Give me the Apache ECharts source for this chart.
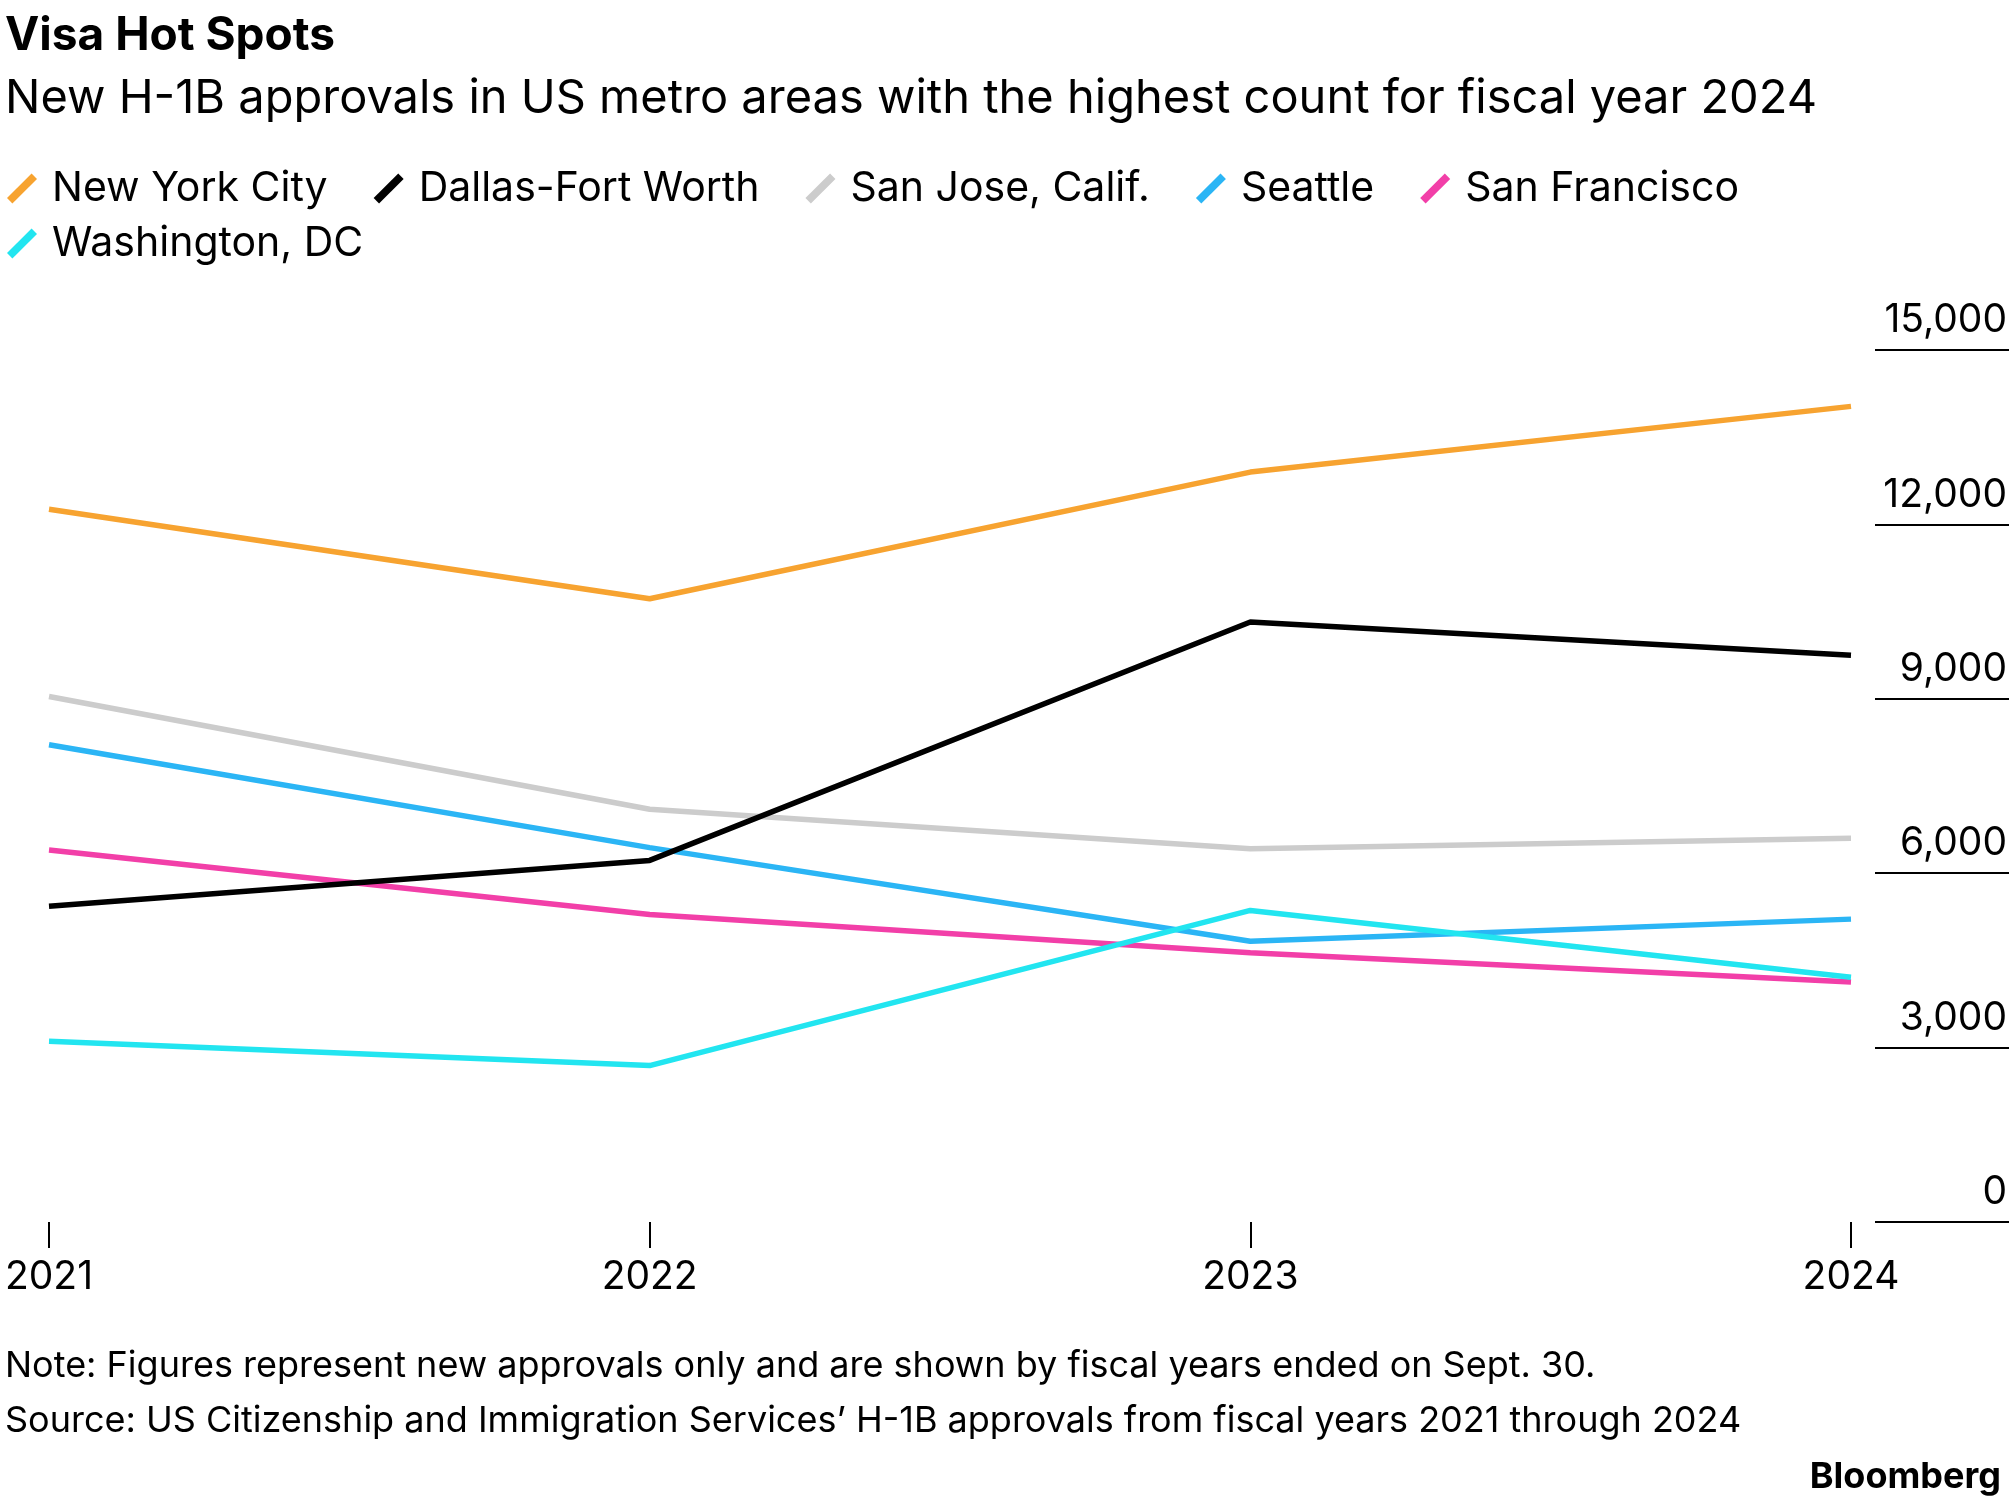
<!DOCTYPE html>
<html>
<head>
<meta charset="utf-8">
<script src="https://cdn.jsdelivr.net/npm/echarts@6/dist/echarts.min.js"></script>
<style>
  html, body { margin: 0; padding: 0; background: #fff; }
  #chart { width: 2010px; height: 1503px; }
</style>
</head>
<body>
<div id="chart"></div>
<script>
// data
const years = [2021, 2022, 2023, 2024];
const newYork = [12260, 10720, 12900, 14030];
const dallas = [5430, 6220, 10320, 9750];
const sanJose = [9040, 7100, 6420, 6600];
const seattle = [8210, 6440, 4830, 5210];
const sanFrancisco = [6400, 5290, 4630, 4130];
const washington = [3110, 2690, 5360, 4210];
const yTicks = [0, 3000, 6000, 9000, 12000, 15000];

const seriesDefs = [
    { name: 'New York City', data: newYork, color: '#f7a330' },
    { name: 'Dallas-Fort Worth', data: dallas, color: '#000000' },
    { name: 'San Jose, Calif.', data: sanJose, color: '#cccccc' },
    { name: 'Seattle', data: seattle, color: '#2bb5f5' },
    { name: 'San Francisco', data: sanFrancisco, color: '#f23fa8' },
    { name: 'Washington, DC', data: washington, color: '#22e5f0' }
];

const font = 'Inter, "Noto Sans", sans-serif';
// slanted stroke drawn as a filled parallelogram
const slash = 'path://M0,8.2 L8.2,0 L10,1.8 L1.8,10 Z';

const legendBase = {
    left: 2,
    icon: slash,
    itemWidth: 30,
    itemHeight: 30,
    itemGap: 46,
    textStyle: { fontFamily: font, fontSize: 41, color: '#000', padding: [0, 0, 0, 10] }
};

const chart = echarts.init(document.getElementById('chart'));
chart.setOption({
    animation: false,
    title: [
        { text: 'Visa Hot Spots', left: 0, top: 8,
          textStyle: { fontFamily: font, fontSize: 46, fontWeight: 'bold', color: '#000' } },
        { text: 'New H-1B approvals in US metro areas with the highest count for fiscal year 2024', left: 0, top: 70,
          textStyle: { fontFamily: font, fontSize: 47, fontWeight: 'normal', color: '#000' } },
        { text: 'Note: Figures represent new approvals only and are shown by fiscal years ended on Sept. 30.', left: 0, top: 1343,
          textStyle: { fontFamily: font, fontSize: 36, fontWeight: 'normal', color: '#000' } },
        { text: 'Source: US Citizenship and Immigration Services\u2019 H-1B approvals from fiscal years 2021 through 2024', left: 0, top: 1398,
          textStyle: { fontFamily: font, fontSize: 36, fontWeight: 'normal', color: '#000' } },
        { text: 'Bloomberg', right: 4, top: 1454,
          textStyle: { fontFamily: font, fontSize: 36, fontWeight: 'bold', color: '#000' } }
    ],
    legend: [
        Object.assign({ top: 163, data: seriesDefs.slice(0, 5).map(s => s.name) }, legendBase),
        Object.assign({ top: 218, data: [seriesDefs[5].name] }, legendBase)
    ],
    grid: { left: 49, right: 158, top: 350, bottom: 281 },
    xAxis: {
        type: 'value',
        min: 2021, max: 2024, interval: 1,
        axisLine: { show: false },
        splitLine: { show: false },
        axisTick: { show: true, length: 26, lineStyle: { color: '#000', width: 2 } },
        axisLabel: { margin: 36, fontFamily: font, fontSize: 39, color: '#000', formatter: v => String(v) }
    },
    yAxis: {
        type: 'value',
        position: 'right',
        offset: 24,
        min: 0, max: 15000, interval: 3000,
        axisLine: { show: false },
        splitLine: { show: false },
        axisTick: { show: true, length: 134, lineStyle: { color: '#000', width: 2 } },
        axisLabel: {
            margin: 132, align: 'right', verticalAlign: 'bottom', padding: [0, 0, 10, 0],
            fontFamily: font, fontSize: 39, color: '#000',
            formatter: v => yTicks.includes(v) ? v.toLocaleString('en-US') : ''
        }
    },
    series: seriesDefs.map(s => ({
        name: s.name,
        type: 'line',
        data: s.data.map((v, i) => [years[i], v]),
        symbol: 'none',
        color: s.color,
        lineStyle: { width: 5.5, color: s.color },
        z: s.name === 'Dallas-Fort Worth' ? 3 : 2
    }))
});
</script>
</body>
</html>
